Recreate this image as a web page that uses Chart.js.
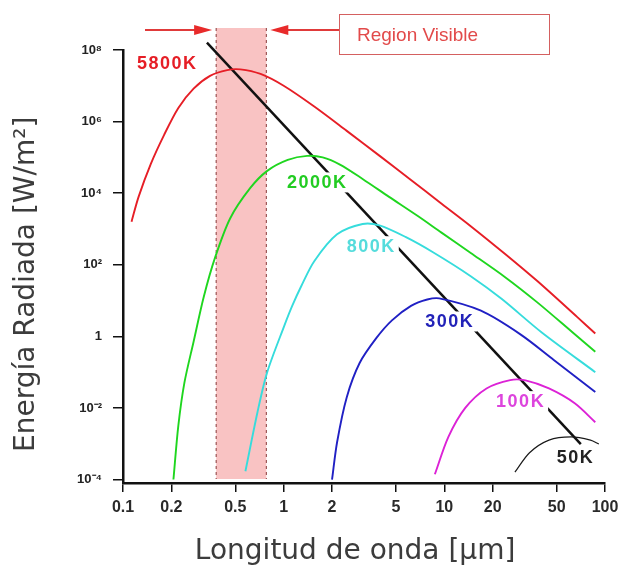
<!DOCTYPE html>
<html lang="es">
<head>
<meta charset="UTF-8">
<title>Radiación de cuerpo negro</title>
<script src="https://cdn.jsdelivr.net/npm/chart.js"></script>
<style>
  html, body { margin: 0; padding: 0; background: #fff; }
  #wrap { width: 634px; height: 567px; }
</style>
</head>
<body>
<div id="wrap"><canvas id="planck" width="634" height="567"></canvas></div>
<script>
// axis ticks
const xTicks = [0.1, 0.2, 0.5, 1, 2, 5, 10, 20, 50, 100];
const yTicks = [1e-4, 1e-2, 1, 1e2, 1e4, 1e6, 1e8];
const yTickLabels = ['10⁻⁴', '10⁻²', '1', '10²', '10⁴', '10⁶', '10⁸'];

// curves: wavelength (µm) and radiated energy
const wl5800 = [0.113, 0.125, 0.149, 0.18, 0.221, 0.275, 0.348, 0.445, 0.537, 0.718, 1.0, 1.55, 2.47, 3.94, 6.2, 9.35, 14.6, 23.9, 37.9, 67, 87];
const e5800 = [1.6e3, 7.9e3, 6.6e4, 4.2e5, 2.4e6, 8.3e6, 1.9e7, 2.75e7, 2.88e7, 2.14e7, 1.0e7, 2.63e6, 5.5e5, 1.12e5, 2.34e4, 5.6e3, 1.2e3, 200, 35, 3.5, 1.2];

const wl2000 = [0.206, 0.221, 0.241, 0.275, 0.318, 0.374, 0.465, 0.62, 0.79, 1.06, 1.4, 1.75, 2.24, 3.1, 4.53, 6.84, 9.6, 14.6, 23.9, 37.9, 62.7, 87];
const e2000 = [1e-4, 3.2e-3, 0.05, 0.71, 12.6, 158, 2.0e3, 1.4e4, 4.2e4, 8.5e4, 1.1e5, 1.0e5, 6.3e4, 2.5e4, 7.9e3, 2.3e3, 790, 214, 45, 8.9, 1.3, 0.37];

const wl800 = [0.578, 0.687, 0.79, 1.01, 1.13, 1.29, 1.55, 2.15, 3.1, 3.94, 5.73, 8.5, 14.6, 22.7, 40.6, 87];
const e800 = [1.7e-4, 7.6e-3, 0.1, 2.0, 7.1, 26, 126, 710, 1.38e3, 1.26e3, 600, 224, 48, 11.2, 1.26, 0.1];

const wl300 = [2.0, 2.15, 2.47, 2.97, 3.77, 4.72, 6.2, 7.83, 9.3, 16.9, 29.9, 48, 87];
const e300 = [1e-4, 1.1e-3, 0.02, 0.18, 0.89, 2.8, 7.1, 10.7, 11.5, 5.2, 1.12, 0.22, 0.028];

const wl100 = [8.73, 10.6, 13.5, 18.3, 25.7, 32, 44.8, 64.8, 87];
const e100 = [1.4e-4, 1.55e-3, 0.01, 0.035, 0.06, 0.059, 0.035, 0.0135, 4e-3];

const wl50 = [27.5, 33.9, 44.8, 61.5, 81.2, 91.6];
const e50 = [1.6e-4, 5.6e-4, 1.26e-3, 1.55e-3, 1.26e-3, 9.8e-4];

// Wien peak line
const wienWl = [0.333, 70.7];
const wienE = [1.6e8, 9.8e-4];

// visible band (µm)
const visibleBand = [0.38, 0.78];

// curve labels and where they sit (left edge, middle)
const curveNames = ['5800K', '2000K', '800K', '300K', '100K', '50K'];
const labelWl = [0.122, 1.05, 2.47, 7.6, 21, 50];
const labelE = [4.2e7, 2e4, 330, 2.6, 0.0155, 4.3e-4];

const lineColors = ['#e61e26', '#1fd61f', '#36dcdc', '#2020c4', '#dc22d6', '#1a1a1a'];
const labelColors = ['#e61e26', '#22cc22', '#55dcdc', '#2222b8', '#dd44dd', '#222222'];

const toPoints = (xs, ys) => xs.map((v, i) => ({ x: v, y: ys[i] }));

const curves = [
  [wl5800, e5800], [wl2000, e2000], [wl800, e800],
  [wl300, e300], [wl100, e100], [wl50, e50]
];

const datasets = curves.map((c, i) => ({
  label: curveNames[i],
  data: toPoints(c[0], c[1]),
  borderColor: lineColors[i],
  borderWidth: i === 5 ? 1.2 : 1.9,
  pointRadius: 0,
  tension: 0.3,
  fill: false
}));

datasets.push({
  label: 'Wien',
  data: toPoints(wienWl, wienE),
  borderColor: '#111',
  borderWidth: 2.5,
  pointRadius: 0,
  clip: false
});

const overlay = {
  id: 'overlay',
  beforeDatasetsDraw(chart) {
    const { ctx, chartArea, scales: { x } } = chart;
    const x0 = x.getPixelForValue(visibleBand[0]);
    const x1 = x.getPixelForValue(visibleBand[1]);
    const top = chartArea.top - 22;
    const bottom = chartArea.bottom - 4;
    ctx.save();
    ctx.fillStyle = '#f9c3c3';
    ctx.fillRect(x0, top, x1 - x0, bottom - top);
    ctx.strokeStyle = '#8a3b3b';
    ctx.lineWidth = 1;
    ctx.setLineDash([3, 3]);
    [x0, x1].forEach(px => {
      ctx.beginPath();
      ctx.moveTo(px, top);
      ctx.lineTo(px, bottom);
      ctx.stroke();
    });
    ctx.restore();
  },
  afterDatasetsDraw(chart) {
    const { ctx, chartArea, scales: { x, y } } = chart;

    // curve labels, white box cuts the Wien line
    ctx.save();
    ctx.font = 'bold 18px "Liberation Sans", Arial, sans-serif';
    ctx.letterSpacing = '1.5px';
    ctx.textBaseline = 'middle';
    curveNames.forEach((name, i) => {
      const px = x.getPixelForValue(labelWl[i]);
      const py = y.getPixelForValue(labelE[i]);
      const w = ctx.measureText(name).width;
      ctx.fillStyle = '#fff';
      ctx.fillRect(px - 3, py - 10, w + 6, 20);
      ctx.fillStyle = labelColors[i];
      ctx.fillText(name, px, py + 1);
    });
    ctx.restore();

    // arrows pointing at the visible band
    const x0 = x.getPixelForValue(visibleBand[0]);
    const x1 = x.getPixelForValue(visibleBand[1]);
    const ay = chartArea.top - 20;
    const boxL = 339;
    ctx.save();
    ctx.strokeStyle = '#e03a3a';
    ctx.fillStyle = '#e82a2a';
    ctx.lineWidth = 2;
    const arrow = (from, tip) => {
      const dir = Math.sign(tip - from);
      ctx.beginPath();
      ctx.moveTo(from, ay);
      ctx.lineTo(tip - dir * 14, ay);
      ctx.stroke();
      ctx.beginPath();
      ctx.moveTo(tip, ay);
      ctx.lineTo(tip - dir * 18, ay - 5);
      ctx.lineTo(tip - dir * 18, ay + 5);
      ctx.closePath();
      ctx.fill();
    };
    arrow(145, x0 - 4);
    arrow(boxL, x1 + 4);

    // "Region Visible" box
    ctx.strokeStyle = '#d46060';
    ctx.lineWidth = 1;
    ctx.strokeRect(boxL + 0.5, 14.5, 210, 40);
    ctx.fillStyle = '#e24a4a';
    ctx.font = '19px "Liberation Sans", Arial, sans-serif';
    ctx.textBaseline = 'alphabetic';
    ctx.fillText('Region Visible', 357, 41);
    ctx.restore();
  }
};

const titleFont = { family: '"DejaVu Sans", Verdana, sans-serif', size: 28, lineHeight: 1 };

new Chart(document.getElementById('planck'), {
  type: 'line',
  data: { datasets },
  options: {
    responsive: false,
    animation: false,
    layout: { padding: { top: 50, right: 29, left: 0, bottom: 0 } },
    plugins: { legend: { display: false }, tooltip: { enabled: false } },
    scales: {
      x: {
        type: 'logarithmic',
        min: 0.1,
        max: 100,
        afterBuildTicks: s => { s.ticks = xTicks.map(v => ({ value: v })); },
        afterFit: s => { s.height = 84; },
        ticks: {
          autoSkip: false,
          maxRotation: 0,
          padding: 6,
          color: '#2a2a2a',
          font: { family: '"Liberation Sans", Arial, sans-serif', size: 16, weight: 'bold' },
          callback: v => String(v)
        },
        grid: { drawOnChartArea: false, drawTicks: true, tickLength: 9, color: '#111', lineWidth: 1.5 },
        border: { display: true, color: '#111', width: 2.5 },
        // trailing spaces nudge the centred title a bit to the left
        title: { display: true, text: 'Longitud de onda [µm]  ', color: '#3c3c3c', font: titleFont, padding: { top: 0, bottom: 1 } }
      },
      y: {
        type: 'logarithmic',
        min: 8e-5,
        max: 1e8,
        afterBuildTicks: s => { s.ticks = yTicks.map(v => ({ value: v })); },
        afterFit: s => { s.width = 123; },
        ticks: {
          autoSkip: false,
          padding: 11,
          color: '#222',
          font: { family: '"Liberation Sans", Arial, sans-serif', size: 13, weight: 'bold' },
          callback: v => yTickLabels[yTicks.indexOf(v)]
        },
        grid: { drawOnChartArea: false, drawTicks: true, tickLength: 10, color: '#111', lineWidth: 1.5 },
        border: { display: true, color: '#111', width: 2.5 },
        // trailing spaces push the rotated title down to where it sits in the original
        title: { display: true, text: 'Energía Radiada [W/m²]    ', color: '#3c3c3c', font: titleFont, padding: { top: 13, bottom: 0 } }
      }
    }
  },
  plugins: [overlay]
});
</script>
</body>
</html>
